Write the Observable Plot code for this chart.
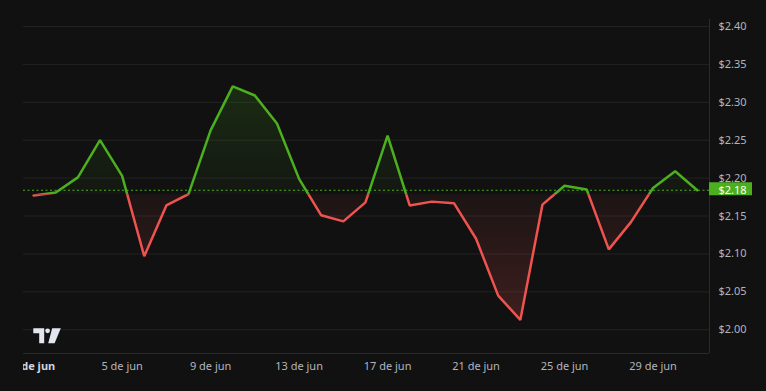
<!DOCTYPE html>
<html>
<head>
<meta charset="utf-8">
<script src="https://cdn.jsdelivr.net/npm/d3@7"></script>
<script src="https://cdn.jsdelivr.net/npm/@observablehq/plot@0.6"></script>
<style>
html, body { margin: 0; padding: 0; background: #111111; }
#wrap { position: relative; width: 766px; height: 391px; overflow: hidden; background: #111111; }
#logo { position: absolute; left: 0; top: 0; pointer-events: none; }
</style>
</head>
<body>
<div id="wrap"></div>
<script>
// ---- data ----
const dates = [
  "2024-06-01","2024-06-02","2024-06-03","2024-06-04","2024-06-05","2024-06-06","2024-06-07",
  "2024-06-08","2024-06-09","2024-06-10","2024-06-11","2024-06-12","2024-06-13","2024-06-14",
  "2024-06-15","2024-06-16","2024-06-17","2024-06-18","2024-06-19","2024-06-20","2024-06-21",
  "2024-06-22","2024-06-23","2024-06-24","2024-06-25","2024-06-26","2024-06-27","2024-06-28",
  "2024-06-29","2024-06-30","2024-07-01"
];
const prices = [
  2.177, 2.181, 2.201, 2.250, 2.203, 2.097, 2.164,
  2.179, 2.263, 2.321, 2.309, 2.272, 2.199, 2.151,
  2.143, 2.168, 2.256, 2.164, 2.169, 2.167, 2.120,
  2.045, 2.013, 2.165, 2.190, 2.185, 2.106, 2.142,
  2.187, 2.209, 2.184
];
const baseValue = 2.178;   // baseline (first value)
const lastPrice = 2.184;   // last price marker
const yTicks = [2.00, 2.05, 2.10, 2.15, 2.20, 2.25, 2.30, 2.35, 2.40];
const xTickDates = ["2024-06-01","2024-06-05","2024-06-09","2024-06-13","2024-06-17","2024-06-21","2024-06-25","2024-06-29"];
const xTickLabels = ["1 de jun","5 de jun","9 de jun","13 de jun","17 de jun","21 de jun","25 de jun","29 de jun"];
const yDomain = [1.9687, 2.4092];
const xDomain = ["2024-05-31T13:00:00Z", "2024-07-01T13:15:00Z"];

// ---- styles ----
const GREEN = "#4caf1e";
const RED = "#ef5350";
const GRID = "#232323";
const BORDER = "#2a2a2a";
const TEXT = "#b2b5be";

const data = dates.map((d, i) => ({date: new Date(d), price: prices[i]}));
const xTicks = xTickDates.map((d, i) => ({date: new Date(d), label: xTickLabels[i]}));

let uid = 0;
// clip a mark to above / below the baseline, optionally with a gradient fill
function sideRender(side, gradStops) {
  return (index, scales, values, dims, context, next) => {
    const inner = next(index, scales, values, dims, context);
    const yb = scales.y(baseValue);
    const top = dims.marginTop, bottom = dims.height - dims.marginBottom;
    const g = d3.create("svg:g");
    const defs = g.append("defs");
    const cid = "clip" + (++uid);
    defs.append("clipPath").attr("id", cid).append("rect")
      .attr("x", 0).attr("width", dims.width)
      .attr("y", side === "above" ? top : yb)
      .attr("height", side === "above" ? yb - top : bottom - yb);
    if (gradStops) {
      const gid = "grad" + (++uid);
      const ext = side === "above" ? d3.max(prices) : d3.min(prices);
      const lg = defs.append("linearGradient").attr("id", gid)
        .attr("gradientUnits", "userSpaceOnUse")
        .attr("x1", 0).attr("x2", 0)
        .attr("y1", scales.y(ext)).attr("y2", yb);
      lg.append("stop").attr("offset", 0).attr("stop-color", gradStops[0]);
      lg.append("stop").attr("offset", 1).attr("stop-color", gradStops[1]);
      inner.setAttribute("fill", `url(#${gid})`);
      d3.select(inner).selectAll("path").attr("fill", `url(#${gid})`);
    }
    const wrap = g.append("g").attr("clip-path", `url(#${cid})`);
    wrap.node().appendChild(inner);
    return g.node();
  };
}

function clipLeft(index, scales, values, dims, context, next) {
  const inner = next(index, scales, values, dims, context);
  const g = d3.create("svg:g");
  const cid = "clip" + (++uid);
  g.append("defs").append("clipPath").attr("id", cid).append("rect")
    .attr("x", dims.marginLeft).attr("y", 0)
    .attr("width", dims.width - dims.marginLeft).attr("height", dims.height);
  g.append("g").attr("clip-path", `url(#${cid})`).node().appendChild(inner);
  return g.node();
}

function priceBox(index, scales, values, dims, context, next) {
  const inner = next(index, scales, values, dims, context);
  const g = d3.create("svg:g");
  const yy = scales.y(lastPrice);
  g.append("rect")
    .attr("x", dims.width - dims.marginRight)
    .attr("y", yy - 7.5)
    .attr("width", 43).attr("height", 13)
    .attr("fill", GREEN);
  g.node().appendChild(inner);
  return g.node();
}

const chart = Plot.plot({
  width: 766,
  height: 391,
  marginTop: 19,
  marginRight: 57,
  marginBottom: 38,
  marginLeft: 23,
  style: {background: "#111111", color: TEXT, fontFamily: "'Noto Sans', sans-serif", fontSize: "11px"},
  x: {type: "utc", domain: xDomain.map(d => new Date(d)), axis: null},
  y: {domain: yDomain},
  marks: [
    Plot.ruleY(yTicks, {stroke: GRID, strokeWidth: 1}),
    Plot.ruleY([yDomain[0]], {stroke: BORDER, strokeWidth: 1}),
    Plot.ruleX([new Date(xDomain[1])], {stroke: BORDER, strokeWidth: 1}),
    Plot.areaY(data, {x: "date", y1: baseValue, y2: "price", fill: GREEN,
      render: sideRender("above", ["rgba(76,175,30,0.17)", "rgba(76,175,30,0.04)"])}),
    Plot.areaY(data, {x: "date", y1: baseValue, y2: "price", fill: RED,
      render: sideRender("below", ["rgba(239,83,80,0.20)", "rgba(239,83,80,0.05)"])}),
    Plot.ruleY([lastPrice], {stroke: GREEN, strokeWidth: 1.2, strokeDasharray: "2,2.5"}),
    Plot.line(data, {x: "date", y: "price", stroke: GREEN, strokeWidth: 2.5, strokeLinejoin: "miter",
      render: sideRender("above")}),
    Plot.line(data, {x: "date", y: "price", stroke: RED, strokeWidth: 2.5, strokeLinejoin: "miter",
      render: sideRender("below")}),
    Plot.axisY({anchor: "right", ticks: yTicks, tickSize: 0, tickPadding: 9, label: null,
      tickFormat: d => "$" + d.toFixed(2), fill: TEXT}),
    Plot.text(xTicks.slice(0, 1), {x: "date", text: "label", frameAnchor: "bottom", lineAnchor: "middle", dy: 13,
      fill: "#d1d4dc", fontWeight: "bold", render: clipLeft}),
    Plot.text(xTicks.slice(1), {x: "date", text: "label", frameAnchor: "bottom", lineAnchor: "middle", dy: 13, fill: TEXT}),
    Plot.text([lastPrice], {y: d => d, text: d => "$" + d.toFixed(2), frameAnchor: "right",
      textAnchor: "start", dx: 9, fill: "#ffffff", render: priceBox})
  ]
});

const wrap = document.getElementById("wrap");
wrap.appendChild(chart);

// TradingView-like logo (decoration)
const logo = d3.select(wrap).append("svg").attr("id", "logo")
  .attr("width", 766).attr("height", 391);
const lg = logo.append("g").attr("fill", "#e3e6ee");
lg.append("path").attr("d", "M33.3,328.3H44.2V343.2H39.2V333.3H33.3Z");
lg.append("circle").attr("cx", 47.6).attr("cy", 330.8).attr("r", 2.4);
lg.append("path").attr("d", "M52.2,328.3H60.8L54.6,343.2H48.2Z");
</script>
</body>
</html>
